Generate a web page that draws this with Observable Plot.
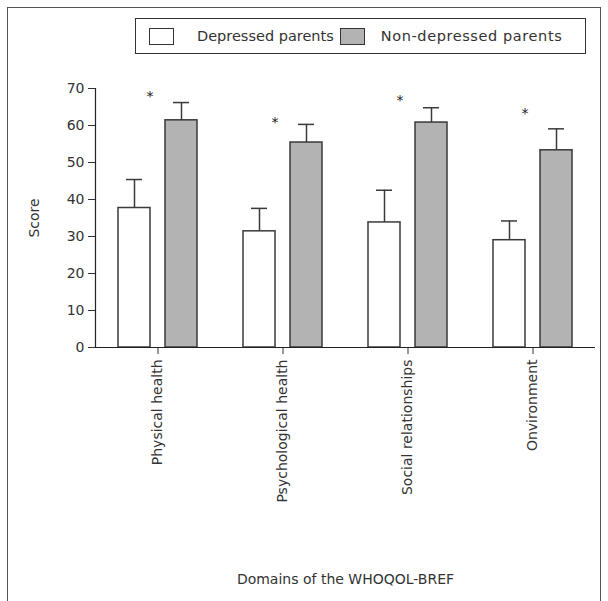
<!DOCTYPE html>
<html>
<head>
<meta charset="utf-8">
<script src="https://cdn.jsdelivr.net/npm/d3@7"></script>
<script src="https://cdn.jsdelivr.net/npm/@observablehq/plot@0.6"></script>
<style>
  body { margin: 0; background: #fff; font-family: "DejaVu Sans", sans-serif; color: #333; }
  #wrap { position: relative; width: 608px; height: 601px; overflow: hidden; }
  #frame { position: absolute; left: 7px; top: 7px; width: 592px; height: 700px; border: 1px solid #555; }
  #legend { position: absolute; left: 135px; top: 18px; width: 449px; height: 34px; border: 1px solid #333;
            display: flex; align-items: center; font-size: 14.5px; color: #333; }
  .sw { display: inline-block; width: 23px; height: 15px; border: 1px solid #333; margin-left: 13px; margin-right: 23px; }
  .sw2 { margin-left: 6px; margin-right: 16px; }
  .lt2 { letter-spacing: 0.6px; }
  #chart { position: absolute; left: 0; top: 70px; }
  #chart svg { overflow: visible; }
</style>
</head>
<body>
<div id="wrap">
  <div id="frame"></div>
  <div id="legend"></div>
  <div id="chart"></div>
</div>
<script>
// ---- data ----
const domains = ["Physical health", "Psychological health", "Social relationships", "Onvironment"];
const groups = ["Depressed parents", "Non-depressed parents"];
const depressedMean = [37.7, 31.4, 33.8, 29.0];
const depressedSD = [7.7, 6.2, 8.7, 5.2];
const nonDepressedMean = [61.4, 55.4, 60.8, 53.3];
const nonDepressedSD = [4.8, 4.9, 4.0, 5.8];
const starY = [69.0, 62.0, 67.8, 64.4];
const yTicks = [0, 10, 20, 30, 40, 50, 60, 70];
const groupFill = ["#ffffff", "#b3b3b3"];

const dep = domains.map((d, i) => ({domain: d, mean: depressedMean[i], sd: depressedSD[i]}));
const non = domains.map((d, i) => ({domain: d, mean: nonDepressedMean[i], sd: nonDepressedSD[i]}));
const stars = domains.map((d, i) => ({domain: d, y: starY[i]}));

// legend
const legend = document.getElementById("legend");
groups.forEach((g, i) => {
  const sw = document.createElement("span");
  sw.className = "sw" + (i ? " sw2" : "");
  sw.style.background = groupFill[i];
  legend.appendChild(sw);
  const t = document.createElement("span");
  t.textContent = g;
  if (i) t.className = "lt2";
  legend.appendChild(t);
});

const ink = "#3a3a3a";
const off = 23.5;

const chart = Plot.plot({
  width: 608,
  height: 531,
  marginLeft: 95,
  marginRight: 13,
  marginTop: 18,
  marginBottom: 254,
  style: {fontFamily: "DejaVu Sans, sans-serif", fontSize: "14px", color: "#333", background: "transparent"},
  x: {
    domain: domains,
    paddingInner: 0,
    paddingOuter: 0,
    tickRotate: -90,
    tickSize: 7,
    tickPadding: 5,
    label: "Domains of the WHOQOL-BREF",
    labelAnchor: "center",
    labelArrow: "none",
    labelOffset: 236
  },
  y: {
    domain: [0, 70],
    ticks: yTicks,
    tickSize: 7,
    tickPadding: 4,
    label: "Score",
    labelAnchor: "center",
    labelArrow: "none",
    labelOffset: 66
  },
  marks: [
    Plot.barY(dep, {x: "domain", y: "mean", fill: groupFill[0], stroke: ink, strokeWidth: 1.5, insetLeft: 23, insetRight: 70}),
    Plot.barY(non, {x: "domain", y: "mean", fill: groupFill[1], stroke: ink, strokeWidth: 1.5, insetLeft: 70, insetRight: 23}),
    Plot.ruleX(dep, {x: "domain", y1: "mean", y2: d => d.mean + d.sd, dx: -off, stroke: ink, strokeWidth: 1.5}),
    Plot.tickY(dep, {x: "domain", y: d => d.mean + d.sd, dx: -off, insetLeft: 54.5, insetRight: 54.5, stroke: ink, strokeWidth: 1.5}),
    Plot.ruleX(non, {x: "domain", y1: "mean", y2: d => d.mean + d.sd, dx: off, stroke: ink, strokeWidth: 1.5}),
    Plot.tickY(non, {x: "domain", y: d => d.mean + d.sd, dx: off, insetLeft: 54.5, insetRight: 54.5, stroke: ink, strokeWidth: 1.5}),
    Plot.text(stars, {x: "domain", y: "y", text: () => "*", dx: -8, dy: 4, fontSize: 14, fill: "#222"}),
    Plot.ruleY([0], {stroke: "#222", strokeWidth: 1.2}),
    Plot.frame({anchor: "left", stroke: "#222", strokeWidth: 1.2})
  ]
});
document.getElementById("chart").appendChild(chart);
</script>
</body>
</html>
